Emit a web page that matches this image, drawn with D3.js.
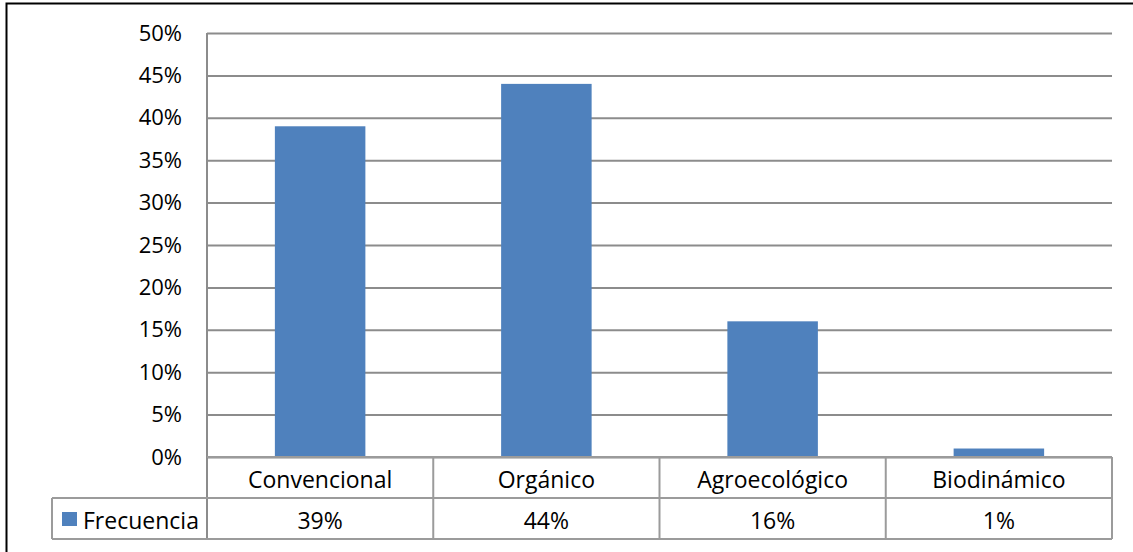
<!DOCTYPE html>
<html>
<head>
<meta charset="utf-8">
<script src="https://cdn.jsdelivr.net/npm/d3@7"></script>
<style>
  html, body { margin: 0; padding: 0; background: #fff; }
  svg { display: block; font-family: "Open Sans", Lato, sans-serif; }
</style>
</head>
<body>
<svg id="chart" width="1133" height="552"></svg>
<script>
// Production system categories and their share of respondents
const categories = ["Convencional", "Orgánico", "Agroecológico", "Biodinámico"];
const frecuencia = [0.39, 0.44, 0.16, 0.01];
const seriesName = "Frecuencia";
const yTicks = [0, 0.05, 0.10, 0.15, 0.20, 0.25, 0.30, 0.35, 0.40, 0.45, 0.50];

const svg = d3.select("#chart");
const W = 1133, H = 552;

const plot = { left: 207, right: 1112, top: 33, bottom: 457 };
const rowH = 41;
const legendLeft = 52;
const tableFont = "23px";
const tickFont = "22px";

const x = d3.scaleBand()
  .domain(categories)
  .range([plot.left, plot.right])
  .paddingInner(0.6)
  .paddingOuter(0.3);

const y = d3.scaleLinear()
  .domain([0, 0.5])
  .range([plot.bottom, plot.top]);

const fmt = d3.format(".0%");
const gridColor = "#8c8c8c";
const tableColor = "#9b9b9b";
const barColor = "#4f81bd";

// outer frame (top and left edges visible)
svg.append("path")
  .attr("d", `M6.5,${H} V3.5 H${W}`)
  .attr("fill", "none")
  .attr("stroke", "#000")
  .attr("stroke-width", 2);

// horizontal gridlines via axis
const yAxis = d3.axisLeft(y)
  .tickValues(yTicks)
  .tickFormat(fmt)
  .tickSize(-(plot.right - plot.left))
  .tickPadding(25);

const gy = svg.append("g")
  .attr("transform", `translate(${plot.left},0)`)
  .call(yAxis);
gy.select(".domain").remove();
gy.selectAll(".tick line")
  .attr("stroke", gridColor)
  .attr("stroke-width", 2);
gy.selectAll(".tick text")
  .attr("fill", "#000")
  .style("font-size", tickFont)
  .style("font-family", "'Open Sans', Lato, sans-serif");

// bars
svg.append("g")
  .selectAll("rect")
  .data(categories)
  .join("rect")
  .attr("x", d => x(d))
  .attr("width", x.bandwidth())
  .attr("y", (d, i) => y(frecuencia[i]))
  .attr("height", (d, i) => y(0) - y(frecuencia[i]))
  .attr("fill", barColor);

// data table below the plot: one column per band
const step = x.step();
const edges = categories.map(c => x(c) - (step - x.bandwidth()) / 2);
edges.push(plot.right);

const t = svg.append("g")
  .attr("fill", "none")
  .attr("stroke", tableColor)
  .attr("stroke-width", 2);

// vertical axis line + table verticals
t.append("line")
  .attr("x1", plot.left).attr("x2", plot.left)
  .attr("y1", plot.top).attr("y2", plot.bottom + 2 * rowH)
  .attr("stroke", gridColor);
edges.slice(1).forEach(ex => {
  t.append("line")
    .attr("x1", ex).attr("x2", ex)
    .attr("y1", plot.bottom).attr("y2", plot.bottom + 2 * rowH);
});
// row separators
t.append("line")
  .attr("x1", legendLeft).attr("x2", plot.right)
  .attr("y1", plot.bottom + rowH).attr("y2", plot.bottom + rowH);
t.append("line")
  .attr("x1", legendLeft).attr("x2", plot.right)
  .attr("y1", plot.bottom + 2 * rowH).attr("y2", plot.bottom + 2 * rowH);
t.append("line")
  .attr("x1", legendLeft).attr("x2", legendLeft)
  .attr("y1", plot.bottom + rowH).attr("y2", plot.bottom + 2 * rowH);
t.append("line")
  .attr("x1", plot.left).attr("x2", plot.right)
  .attr("y1", plot.bottom).attr("y2", plot.bottom);

// category labels
svg.append("g")
  .selectAll("text")
  .data(categories)
  .join("text")
  .attr("x", d => x(d) + x.bandwidth() / 2)
  .attr("y", plot.bottom + rowH / 2 + 1)
  .attr("text-anchor", "middle")
  .attr("dominant-baseline", "central")
  .style("font-size", tableFont)
  .attr("fill", "#000")
  .text(d => d);

// value labels
svg.append("g")
  .selectAll("text")
  .data(frecuencia)
  .join("text")
  .attr("x", (d, i) => x(categories[i]) + x.bandwidth() / 2)
  .attr("y", plot.bottom + rowH * 1.5 + 1)
  .attr("text-anchor", "middle")
  .attr("dominant-baseline", "central")
  .style("font-size", tableFont)
  .attr("fill", "#000")
  .text(d => fmt(d));

// legend key
svg.append("rect")
  .attr("x", 62).attr("y", plot.bottom + rowH + 14)
  .attr("width", 15).attr("height", 14)
  .attr("fill", barColor);
svg.append("text")
  .attr("x", 83)
  .attr("y", plot.bottom + rowH * 1.5 + 1)
  .attr("dominant-baseline", "central")
  .style("font-size", tableFont)
  .attr("fill", "#000")
  .text(seriesName);
</script>
</body>
</html>
